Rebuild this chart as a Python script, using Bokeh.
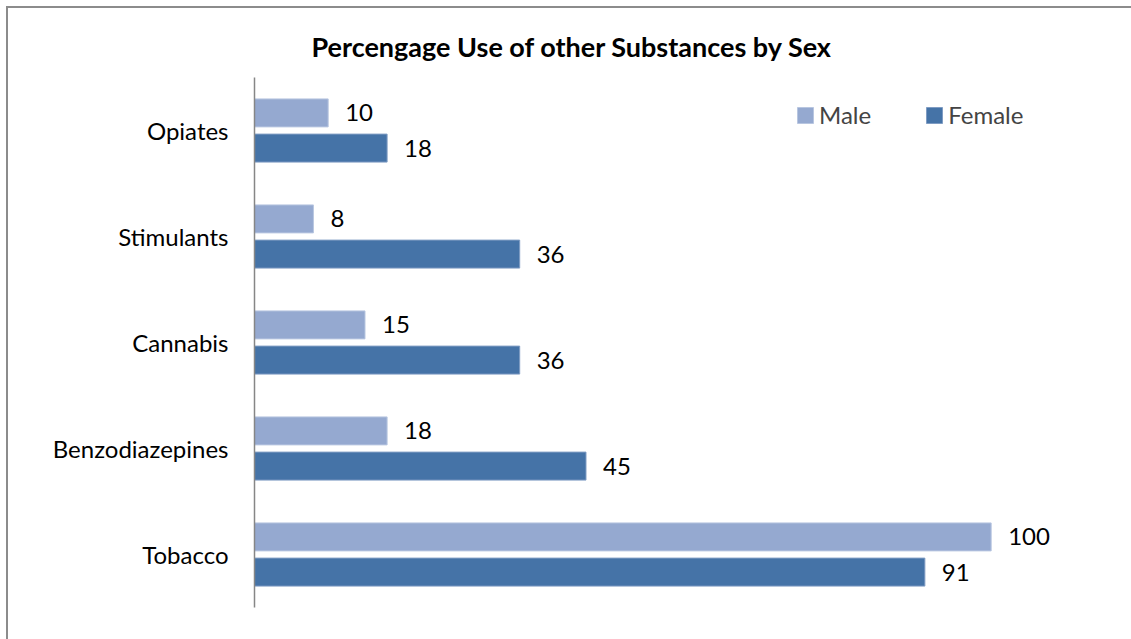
from bokeh.plotting import figure
from bokeh.models import ColumnDataSource, FactorRange, Legend, LegendItem
from bokeh.transform import dodge
from bokeh.embed import file_html
from bokeh.resources import INLINE

categories = ["Tobacco", "Benzodiazepines", "Cannabis", "Stimulants", "Opiates"]
male = [100, 18, 15, 8, 10]
female = [91, 45, 36, 36, 18]
series_names = ["Male", "Female"]

MALE_C = "#95a9d0"
FEMALE_C = "#4573a7"
FONT = "Lato"

src = ColumnDataSource(dict(cat=categories, male=male, female=female,
                            male_lbl=[str(v) for v in male],
                            female_lbl=[str(v) for v in female]))

p = figure(width=1125, height=633, output_backend="svg", toolbar_location=None,
           y_range=FactorRange(*categories, range_padding=0), x_range=(0, 116.2),
           min_border_left=246, min_border_right=23, min_border_top=69, min_border_bottom=34,
           styles={"margin-left": "6px", "margin-top": "6px",
                   "border-left": "2px solid #8c8c8c", "border-top": "2px solid #8c8c8c"})

rm = p.hbar(y=dodge("cat", 0.166, range=p.y_range), right="male", left=0, height=0.264,
            source=src, fill_color=MALE_C, line_color="#b8c6e0", line_width=1)
rf = p.hbar(y=dodge("cat", -0.166, range=p.y_range), right="female", left=0, height=0.264,
            source=src, fill_color=FEMALE_C, line_color="#7f9cc3", line_width=1)

p.text(x="male", y=dodge("cat", 0.166, range=p.y_range), text="male_lbl", source=src,
       x_offset=17, text_align="left", text_baseline="middle",
       text_font={"value": FONT}, text_font_size="24px", text_color="#000000")
p.text(x="female", y=dodge("cat", -0.166, range=p.y_range), text="female_lbl", source=src,
       x_offset=17, text_align="left", text_baseline="middle",
       text_font={"value": FONT}, text_font_size="24px", text_color="#000000")

p.xaxis.visible = False
p.xgrid.visible = False
p.ygrid.visible = False
p.outline_line_color = None

ya = p.yaxis[0]
ya.axis_line_color = "#868686"
ya.axis_line_width = 1.5
ya.major_tick_line_color = None
ya.major_tick_out = 0
ya.major_tick_in = 0
ya.minor_tick_line_color = None
ya.major_label_standoff = 26
ya.major_label_text_font = FONT
ya.major_label_text_font_size = "24px"
ya.major_label_text_color = "#000000"

p.title.text = "Percengage Use of other Substances by Sex"
p.title.text_font = FONT
p.title.text_font_style = "bold"
p.title.text_font_size = "27px"
p.title.text_color = "#000000"
p.title.align = "left"
p.title.offset = 57
p.title.standoff = 29

legend = Legend(items=[LegendItem(label=series_names[0], renderers=[rm]),
                       LegendItem(label=series_names[1], renderers=[rf])],
                orientation="horizontal", location=(541, 478),
                glyph_width=20, glyph_height=20, label_standoff=4, spacing=53,
                label_text_font=FONT, label_text_font_size="24px",
                border_line_color=None, background_fill_alpha=0, padding=0, margin=0)
p.add_layout(legend)

html = file_html(p, INLINE)
html = html.replace("<head>", "<head><style>html,body{overflow:hidden;margin:0;}</style>", 1)
open("out.html", "w").write(html)
